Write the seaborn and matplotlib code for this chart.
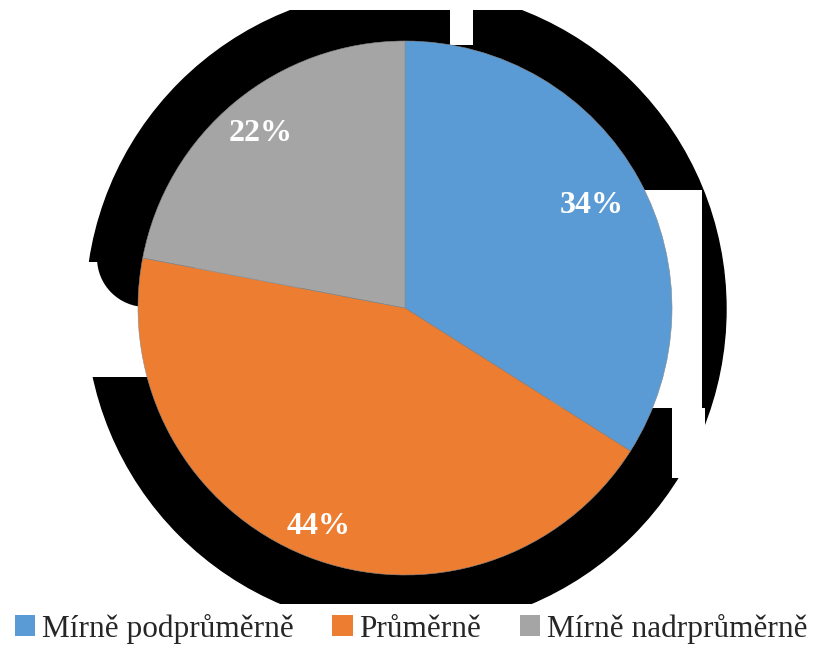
import matplotlib
matplotlib.use("Agg")
import matplotlib.pyplot as plt
import seaborn as sns
import numpy as np
from matplotlib.patches import Circle, Rectangle, Patch

categories = ['Mírně podprůměrně', 'Průměrně', 'Mírně nadrprůměrně']
shares = [34, 44, 22]
colors = ['#5B9BD5', '#ED7D31', '#A5A5A5']
label_dist = [0.80, 0.88, 0.85]

sns.set_theme(style="white")
plt.rcParams['font.family'] = ['Liberation Serif', 'DejaVu Serif']

W, H = 814, 648
CX, CY, R = 405, 308, 267  # pie centre / radius in pixels


def px(x, y):
    # pixel (from top-left) -> data coords of the pie axes
    return (x - CX) / R, (CY - y) / R


fig = plt.figure(figsize=(W / 100, H / 100), dpi=100)
ax = fig.add_axes([0, 0, 1, 1])

# broken black "shadow" behind the pie
sx, sy = px(406, 309)
shadow = Circle((sx, sy), 320 / R, color='black', zorder=0)
ax.add_patch(shadow)
x0, y0 = px(0, 604)
x1, y1 = px(W, 10)
clip = Rectangle((x0, y0), x1 - x0, y1 - y0, transform=ax.transData)
shadow.set_clip_path(clip)
for (a, b, c, d) in [(550, 190, 702, 408), (672, 408, 705, 478),
                     (60, 262, 300, 377), (450, 0, 473, 45)]:
    xa, yb = px(a, d)
    xb, ya = px(c, b)
    ax.add_patch(Rectangle((xa, yb), xb - xa, ya - yb, color='white', zorder=1, lw=0))
ax.add_patch(Circle(px(146, 258), 49 / R, color='black', zorder=1.5, lw=0))

wedges, _ = ax.pie(shares, colors=colors, startangle=90, counterclock=False,
                   radius=1, center=(0, 0), frame=True,
                   wedgeprops=dict(linewidth=0.4, edgecolor='#8a8a8a'))
for w in wedges:
    w.set_zorder(2)
ax.set_xlim(px(0, 0)[0], px(W, 0)[0])
ax.set_ylim(px(0, H)[1], px(0, 0)[1])
ax.set_aspect('auto')
ax.axis('off')

for w, v, d in zip(wedges, shares, label_dist):
    ang = np.deg2rad((w.theta1 + w.theta2) / 2)
    ax.text(d * np.cos(ang), d * np.sin(ang), f'{v}%', color='white',
            fontsize=23, fontweight='bold', ha='center', va='center', zorder=3)

handles = [Patch(facecolor=c, edgecolor='none') for c in colors]
fig.legend(handles, categories, loc='center', bbox_to_anchor=(0.505, 0.03),
           ncol=3, frameon=False, fontsize=22.5, handlelength=0.65, handleheight=0.65,
           handletextpad=0.2, columnspacing=1.25, borderaxespad=0)

fig.savefig('out.png', dpi=100)
